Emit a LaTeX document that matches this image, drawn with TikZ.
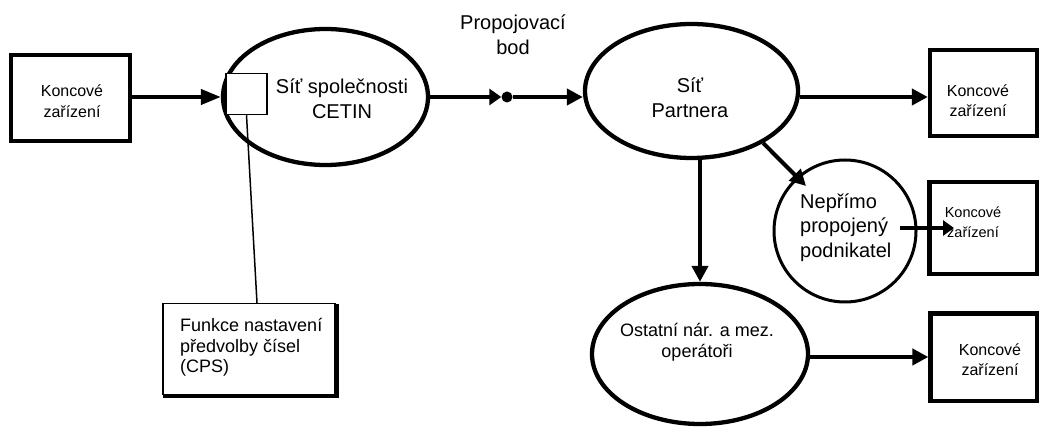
\documentclass[tikz,border=0pt]{standalone}
\usepackage{fontspec}
\setmainfont{Liberation Sans}
\usetikzlibrary{shapes.geometric,arrows.meta}
\begin{document}
\begin{tikzpicture}[x=1pt,y=-1pt,
  ell/.style={draw, ellipse, line width=4.3pt, inner sep=0pt},
  kbox/.style={draw, rectangle, line width=4.3pt, inner sep=0pt},
  arr/.style={line width=4pt, -{Triangle[length=16pt,width=16pt]}},
  arrbig/.style={line width=4pt, -{Triangle[length=20pt,width=15pt]}},
  arrsmall/.style={line width=4pt, -{Triangle[length=11pt,width=15pt]}},
  bigtxt/.style={font=\fontsize{20}{24.5}\selectfont, align=center, inner sep=0pt},
  midtxt/.style={font=\fontsize{18}{20.7}\selectfont, inner sep=0pt},
  smalltxt/.style={font=\fontsize{16}{20.5}\selectfont, align=center, inner sep=0pt},
  tinytxt/.style={font=\fontsize{14.5}{20}\selectfont, align=center, inner sep=0pt}
]
\useasboundingbox (0,0) rectangle (1039,427);

% terminal boxes
\node[kbox, minimum width=119pt, minimum height=86pt] (box1) at (70.5,98) {};
\node[smalltxt] (box1t) at (72,101) {Koncové\\zařízení};
\node[kbox, minimum width=107pt, minimum height=86pt] (box2) at (983.5,93) {};
\node[smalltxt] (box2t) at (978,100.5) {Koncové\\zařízení};
\node[kbox, minimum width=107.5pt, minimum height=92pt] (box3) at (983.25,228) {};
\node[tinytxt] (box3t) at (973,222) {Koncové\\zařízení};
\node[kbox, minimum width=106.5pt, minimum height=87.5pt] (box4) at (983.75,357.25) {};
\node[smalltxt] (box4t) at (990,359.5) {Koncové\\zařízení};

% networks
\node[ell, minimum width=205pt, minimum height=136pt] (cetin) at (325.5,97) {};
\node[bigtxt] (cetint) at (342,98.5) {Síť společnosti\\CETIN};
\node[draw, fill=white, line width=1.5pt, minimum size=41pt, inner sep=0pt] (sq) at (246.5,94) {};

\node[ell, minimum width=213pt, minimum height=134pt] (partner) at (691.5,91) {};
\node[bigtxt] (partnert) at (690,97.5) {Síť\\Partnera};

\node[draw, circle, line width=3pt, minimum size=142pt, inner sep=0pt] (nep) at (845,231) {};
\node[bigtxt, align=left, anchor=west] (nept) at (800,227.5) {Nepřímo\\propojený\\podnikatel};

\node[ell, minimum width=216pt, minimum height=140pt] (ost) at (700,354) {};
\node[midtxt, align=center] (ostt) at (697,342.5) {Ostatní nár. a mez.\\operátoři};

% CPS box
\node[draw, line width=1.5pt, minimum width=172pt, minimum height=91pt, inner sep=0pt, anchor=north west] (cps) at (162,303) {};
\draw[line width=4pt] ([xshift=1pt,yshift=-1pt]cps.south west) -| ([xshift=1pt,yshift=-1pt]cps.north east);
\node[midtxt, align=left, anchor=west] (cpst) at (180,347.5) {Funkce nastavení\\předvolby čísel\\(CPS)};
\coordinate (cpsa) at (257,303);
\draw[line width=1.5pt] (sq.south) -- (cpsa);

% interconnection point
\node[bigtxt] (pbt) at (513,34.5) {Propojovací\\bod};
\node[circle, fill, inner sep=0pt, minimum size=11pt] (pb) at (507,97) {};

% connectors
\draw[arrbig] (box1.east |- 0,97) -- (cetin.west |- 0,97);
\draw[line width=4pt, -{Triangle[length=12pt,width=16pt]}] (cetin.east |- pb) -- (pb);
\draw[arr] (pb) -- (pb -| partner.west);
\draw[arr] (partner.east |- pb) -- (box2.west |- pb);
\coordinate (ntip) at (806,186);
\draw[arr] (partner.-36) -- (ntip);
\draw[arr] (ost.north |- partner.south) -- (ost.north);
\coordinate (ns) at (900,228);
\coordinate (ne) at (954,228);
\draw[arrsmall] (ns) -- (ne);
\draw[arr] (ost.east |- 0,357) -- (box4.west |- 0,357);
\end{tikzpicture}
\end{document}
